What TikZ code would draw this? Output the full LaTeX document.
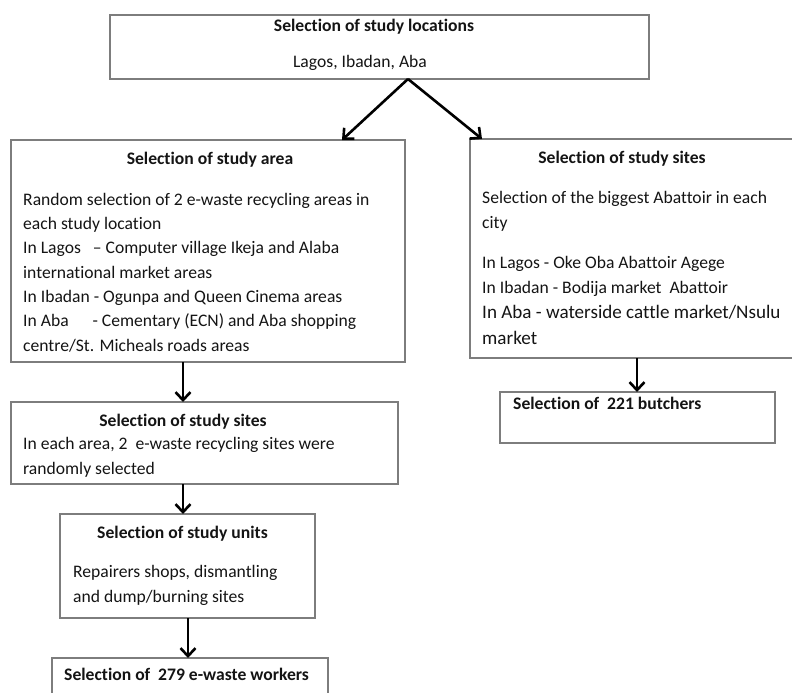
\documentclass[tikz,border=0pt]{standalone}
\usepackage{fontspec}
\setmainfont{Carlito}[Ligatures=CommonOff]
\usetikzlibrary{arrows.meta}
\definecolor{boxgray}{RGB}{125,125,125}
\definecolor{ink}{RGB}{20,20,20}
\begin{document}
\begin{tikzpicture}[x=1pt,y=-1pt,
  box/.style={draw=boxgray, line width=1.2pt, inner sep=0pt, outer sep=0pt},
  ttl/.style={font=\fontsize{17.6}{24.3}\selectfont\bfseries, text=ink, inner sep=0pt, anchor=base},
  ttlw/.style={font=\fontsize{17.6}{24.3}\selectfont\bfseries, text=ink, inner sep=0pt, anchor=base west},
  txt/.style={font=\fontsize{17.6}{24.3}\selectfont, text=ink, inner sep=0pt, anchor=base west, align=left},
  arr/.style={line width=2.6pt, draw=black, -{Straight Barb[length=8pt,width=15pt]}}]
\useasboundingbox (0,0) rectangle (792,693);
% boxes
\node[box, minimum width=539pt, minimum height=64pt] (top) at (379.5,47) {};
\node[box, minimum width=394pt, minimum height=222pt] (area) at (208,251) {};
\node[box, minimum width=360pt, minimum height=219pt] (rsites) at (650,248.5) {};
\node[box, minimum width=275pt, minimum height=51pt] (butch) at (637.5,417.5) {};
\node[box, minimum width=387pt, minimum height=82pt] (sites) at (204.5,443) {};
\node[box, minimum width=255pt, minimum height=104pt] (units) at (187.5,566) {};
\node[box, minimum width=276pt, minimum height=70pt] (work) at (190,693) {};
% texts (multi-line nodes: anchor on the baseline of the last line)
\node[ttl] (t1) at (374,32) {Selection of study locations};
\node[txt, anchor=base] (t1b) at (360,67) {Lagos, Ibadan, Aba};
\node[ttl] (t2) at (210,164) {Selection of study area};
\node[txt] (t2b) at (23,351) {Random selection of 2 e-waste recycling areas in\\each study location\\In Lagos \ \ -- Computer village Ikeja and Alaba\\international market areas\\In Ibadan - Ogunpa and Queen Cinema areas\\In Aba \ \ \ \ \ - Cementary (ECN) and Aba shopping\\centre/St. Micheals roads areas};
\node[ttl] (t3) at (622,163) {Selection of study sites};
\node[txt] (t3b) at (482,228) {Selection of the biggest Abattoir in each\\city};
\node[txt] (t3c) at (482,293) {In Lagos - Oke Oba Abattoir Agege\\In Ibadan - Bodija market \ Abattoir};
\node[txt, font=\fontsize{19.1}{26}\selectfont] (t3d) at (482,344) {In Aba - waterside cattle market/Nsulu\\market};
\node[ttlw] (t4) at (513,409) {Selection of \ 221 butchers};
\node[ttl] (t5) at (183,426) {Selection of study sites};
\node[txt] (t5b) at (23,474) {In each area, 2 \ e-waste recycling sites were\\randomly selected};
\node[ttl] (t6) at (182.5,538) {Selection of study units};
\node[txt] (t6b) at (73,602) {Repairers shops, dismantling\\and dump/burning sites};
\node[ttlw] (t7) at (64,680) {Selection of \ 279 e-waste workers};
% arrows
\draw[arr] ([xshift=28.5pt]top.south) -- ([xshift=331pt]area.north west);
\draw[arr] ([xshift=28.5pt]top.south) -- ([xshift=12pt]rsites.north west);
\draw[arr] ([xshift=-25pt]area.south) -- ([xshift=-21.5pt]sites.north);
\draw[arr] ([xshift=-21.5pt]sites.south) -- ([xshift=-4.5pt]units.north);
\draw[arr] ([xshift=0.5pt]units.south) -- ([xshift=-2pt]work.north);
\draw[arr] ([xshift=-13pt]rsites.south) -- ([xshift=-0.5pt]butch.north);
\end{tikzpicture}
\end{document}
